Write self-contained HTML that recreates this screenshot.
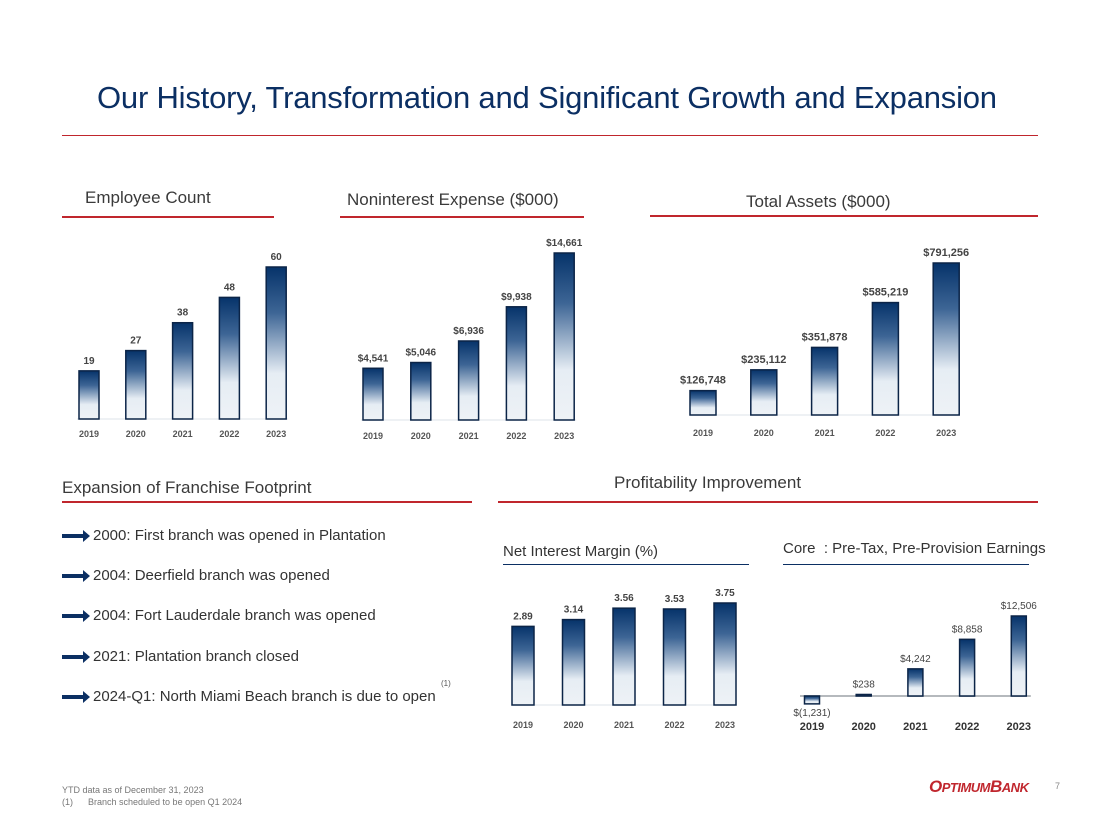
<!DOCTYPE html>
<html><head><meta charset="utf-8"><style>
body{margin:0;width:1100px;height:825px;background:#fff;position:relative;font-family:"Liberation Sans",sans-serif;overflow:hidden}
.t{position:absolute;white-space:nowrap}
.h{font-size:17px;color:#3a3a3a}
.line{position:absolute;height:2px;background:#c0262d}
.li{position:absolute;left:62px;font-size:15px;color:#333}
.arr{display:inline-block;width:22px;height:4px;background:#0b2f63;vertical-align:middle;margin-right:9px;position:relative}
.arr:after{content:"";position:absolute;right:-6px;top:-4px;border-left:7px solid #0b2f63;border-top:6px solid transparent;border-bottom:6px solid transparent}
</style></head><body>
<div class="t" style="left:97px;top:80px;font-size:31px;color:#0b2f63;letter-spacing:-0.2px">Our History, Transformation and Significant Growth and Expansion</div>
<div class="line" style="left:62px;top:135px;width:976px;height:1px;background:#c0262d"></div>

<div class="t h" style="left:85px;top:188px">Employee Count</div>
<div class="line" style="left:62px;top:216px;width:212px"></div>
<div class="t h" style="left:347px;top:190px">Noninterest Expense ($000)</div>
<div class="line" style="left:340px;top:216px;width:244px"></div>
<div class="t h" style="left:746px;top:192px">Total Assets ($000)</div>
<div class="line" style="left:650px;top:215px;width:388px"></div>

<div class="t h" style="left:62px;top:478px">Expansion of Franchise Footprint</div>
<div class="line" style="left:62px;top:501px;width:410px"></div>
<div class="t h" style="left:614px;top:473px">Profitability Improvement</div>
<div class="line" style="left:498px;top:501px;width:540px"></div>

<div class="t li" style="top:527px"><span class="arr"></span>2000: First branch was opened in Plantation</div>
<div class="t li" style="top:567px"><span class="arr"></span>2004: Deerfield branch was opened</div>
<div class="t li" style="top:607px"><span class="arr"></span>2004: Fort Lauderdale branch was opened</div>
<div class="t li" style="top:648px"><span class="arr"></span>2021: Plantation branch closed</div>
<div class="t" style="left:441px;top:679px;font-size:8px;color:#555">(1)</div>
<div class="t li" style="top:688px"><span class="arr"></span>2024-Q1: North Miami Beach branch is due to open</div>

<div class="t" style="left:503px;top:543px;font-size:15px;color:#333">Net Interest Margin (%)</div>
<div class="line" style="left:503px;top:564px;width:246px;background:#0b2f63;height:1px"></div>
<div class="t" style="left:783px;top:540px;font-size:15px;color:#333">Core&nbsp; : Pre-Tax, Pre-Provision Earnings</div>
<div class="line" style="left:783px;top:564px;width:246px;background:#0b2f63;height:1px"></div>

<div class="t" style="left:62px;top:784px;font-size:9px;color:#777;line-height:12px">YTD data as of December 31, 2023<br>(1)&nbsp;&nbsp;&nbsp;&nbsp;&nbsp;&nbsp;Branch scheduled to be open Q1 2024</div>
<div class="t" style="left:929px;top:777px;font-size:17px;font-weight:bold;font-style:italic;color:#c0262d;letter-spacing:-0.5px">O<span style="font-size:13px">PTIMUM</span>B<span style="font-size:13px">ANK</span></div>
<div class="t" style="left:1055px;top:781px;font-size:9px;color:#888">7</div>

<svg width="1100" height="825" style="position:absolute;left:0;top:0" id="svg">
<defs><linearGradient id="g" x1="0" y1="0" x2="0" y2="1"><stop offset="0" stop-color="#06336a"/><stop offset="0.3" stop-color="#3d6595"/><stop offset="0.7" stop-color="#e6edf4"/><stop offset="1" stop-color="#eef2f6"/></linearGradient></defs>
</svg>
<script>
const years=["2019","2020","2021","2022","2023"];
const empVals=[19,27,38,48,60];
const empLabels=["19","27","38","48","60"];
const expVals=[4541,5046,6936,9938,14661];
const expLabels=["$4,541","$5,046","$6,936","$9,938","$14,661"];
const assetVals=[126748,235112,351878,585219,791256];
const assetLabels=["$126,748","$235,112","$351,878","$585,219","$791,256"];
const nimVals=[2.89,3.14,3.56,3.53,3.75];
const nimLabels=["2.89","3.14","3.56","3.53","3.75"];
const coreVals=[-1231,238,4242,8858,12506];
const coreLabels=["$(1,231)","$238","$4,242","$8,858","$12,506"];
const svg=document.getElementById('svg');
const NS="http://www.w3.org/2000/svg";
function mk(tag,a){const e=document.createElementNS(NS,tag);for(const k in a)e.setAttribute(k,a[k]);svg.appendChild(e);return e;}
function chart(name,vals,labels,o){
  const base=mk('line',{x1:o.x0-12,x2:o.x0+o.step*4+12,y1:o.base,y2:o.base,stroke:o.axisCol||'#dde3ea','stroke-width':o.axisW||1});
  
  
  const y=v=>o.base-v*o.scale;
  vals.forEach((v,i)=>{
    const cx=o.x0+o.step*i;
    const top=Math.min(y(v),o.base), h=Math.max(Math.abs(y(v)-o.base),1.5);
    const r=mk('rect',{x:cx-o.w/2,y:top,width:o.w,height:h,fill:'url(#g)',stroke:'#0b2447','stroke-width':1.5});
    
    
    const ly=v<0?o.base+h+12:top-7;
    const t=mk('text',{x:cx,y:ly,'text-anchor':'middle','font-size':o.fs||10,'font-weight':o.bold===false?'normal':'bold',fill:'#444'});
    t.textContent=labels[i];
    
    
    const yl=mk('text',{x:cx,y:o.yearY,'text-anchor':'middle','font-size':o.yfs||9,'font-weight':'bold',fill:o.ycol||'#555'});
    yl.textContent=years[i];
    
    
  });
}
chart('employee',empVals,empLabels,{x0:89,step:46.8,w:20,base:419,scale:152/60,yearY:437});
chart('expense',expVals,expLabels,{x0:373,step:47.8,w:20,base:420,scale:167/14661,yearY:439});
chart('assets',assetVals,assetLabels,{x0:703,step:60.8,w:26,base:415,scale:152/791256,yearY:436,fs:11});
chart('nim',nimVals,nimLabels,{x0:523,step:50.5,w:22,base:705,scale:102/3.75,yearY:728});
chart('core',coreVals,coreLabels,{x0:812,step:51.7,w:15,base:696,scale:80/12506,yearY:730,axisCol:'#b5b9bd',axisW:2,yfs:11,bold:false,ycol:'#333'});
</script>
</body></html>
